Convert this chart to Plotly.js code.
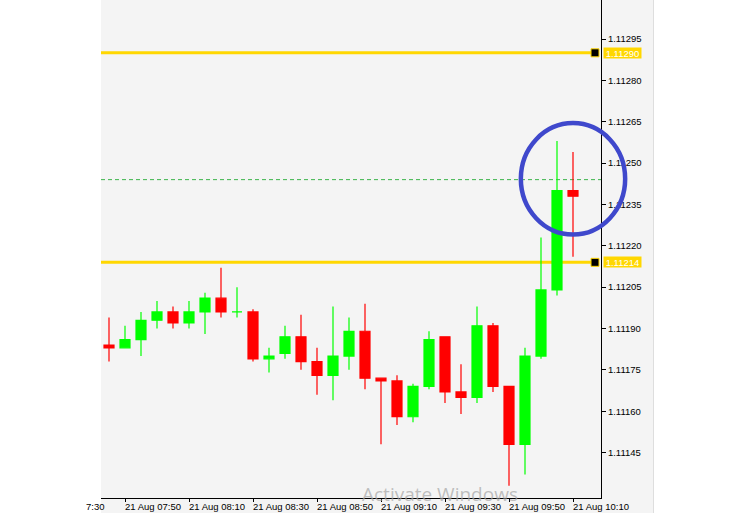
<!DOCTYPE html>
<html>
<head>
<meta charset="utf-8">
<script src="https://cdn.plot.ly/plotly-3.0.1.min.js"></script>
<style>
html,body{margin:0;padding:0;background:#ffffff;}
#chart{width:739px;height:513px;}
</style>
</head>
<body>
<div id="chart"></div>
<script>
// ---------- data ----------
const day = '2023-08-21 ';
const times = ['07:45','07:50','07:55','08:00','08:05','08:10','08:15','08:20','08:25','08:30',
               '08:35','08:40','08:45','08:50','08:55','09:00','09:05','09:10','09:15','09:20',
               '09:25','09:30','09:35','09:40','09:45','09:50','09:55','10:00','10:05','10:10'];
const open  = [1.11184,1.11183,1.11186,1.11193,1.11196,1.11192,1.11196,1.11201,1.11196,1.11196,
               1.11179,1.11181,1.11187,1.11178,1.11173,1.11180,1.11189,1.11172,1.11171,1.11158,
               1.11169,1.11187,1.11167,1.11165,1.11191,1.11169,1.11148,1.11180,1.11204,1.11240];
const high  = [1.11194,1.11191,1.11196,1.11200,1.11198,1.11200,1.11203,1.11212,1.11205,1.11197,
               1.11183,1.11191,1.11195,1.11183,1.11198,1.11194,1.11199,1.11172,1.11173,1.11170,
               1.11189,1.11187,1.11177,1.11198,1.11192,1.11169,1.11183,1.11223,1.11258,1.11254];
const low   = [1.11178,1.11183,1.11180,1.11190,1.11190,1.11190,1.11188,1.11194,1.11194,1.11178,
               1.11174,1.11179,1.11175,1.11166,1.11164,1.11175,1.11168,1.11148,1.11155,1.11156,
               1.11168,1.11163,1.11159,1.11163,1.11167,1.11133,1.11137,1.11179,1.11202,1.11216];
const close = [1.11183,1.11186,1.11193,1.11196,1.11192,1.11196,1.11201,1.11196,1.11196,1.11179,
               1.11180,1.11187,1.11178,1.11173,1.11180,1.11189,1.11172,1.11171,1.11158,1.11169,
               1.11186,1.11167,1.11165,1.11191,1.11169,1.11148,1.11180,1.11204,1.11240,1.11238];

const levelPrices = [1.11290, 1.11214];      // horizontal gold lines
const askPrice = 1.11244;                     // dashed ask line
const xTickTimes  = ['07:50','08:10','08:30','08:50','09:10','09:30','09:50','10:10'];
const xTickLabels = ['21 Aug 07:50','21 Aug 08:10','21 Aug 08:30','21 Aug 08:50',
                     '21 Aug 09:10','21 Aug 09:30','21 Aug 09:50','21 Aug 10:10'];
const yTicks = [1.11145,1.11160,1.11175,1.11190,1.11205,1.11220,1.11235,1.11250,1.11265,1.11280,1.11295];
const xRange = ['07:42:30','10:18:45'];
const yRange = [1.1112852, 1.1130916];
const circleCenterTime = '10:10';
const circleCenterPrice = 1.112443;
const circleRadiusMinutes = 16.3;
const circleRadiusPrice = 0.000202;

// ---------- helpers ----------
const GREEN = '#00ff00', RED = '#ff0000', GOLD = '#ffd700', BG = '#f4f4f4';
const FONT = 'Liberation Sans, Arial, sans-serif';
const FS = 9.5;
function toMin(s){ const p = s.split(':').map(Number); return p[0]*60 + p[1] + (p[2]||0)/60; }
const xr0 = toMin(xRange[0]), xr1 = toMin(xRange[1]);
function xPaperMin(m){ return (m - xr0)/(xr1 - xr0); }
function yPaper(p){ return (p - yRange[0])/(yRange[1] - yRange[0]); }
const W = 739, H = 513, ML = 101, MR = 138, MT = 0, MB = 15;
const PW = W - ML - MR, PH = H - MT - MB;
function pxX(px){ return (px - ML)/PW; }
function pxY(py){ return (H - MB - py)/PH; }

// split candles by direction (doji drawn in bull colour)
const up = {x:[],o:[],h:[],l:[],c:[]}, dn = {x:[],o:[],h:[],l:[],c:[]};
for (let i=0;i<times.length;i++){
  const g = close[i] >= open[i] ? up : dn;
  g.x.push(day+times[i]); g.o.push(open[i]); g.h.push(high[i]); g.l.push(low[i]); g.c.push(close[i]);
}
function candle(g, col){
  return {type:'candlestick', x:g.x, open:g.o, high:g.h, low:g.l, close:g.c,
    increasing:{line:{color:col,width:1.2}, fillcolor:col},
    decreasing:{line:{color:col,width:1.2}, fillcolor:col},
    whiskerwidth:0, hoverinfo:'x+y', showlegend:false};
}
const traces = [candle(up, GREEN), candle(dn, RED)];

// ---------- shapes ----------
const shapes = [];
shapes.push({type:'rect', xref:'paper', yref:'paper', x0:pxX(101), x1:pxX(653), y0:pxY(513), y1:1,
  fillcolor:BG, line:{width:0}, layer:'below'});
shapes.push({type:'line', xref:'paper', yref:'paper', x0:pxX(653.5), x1:pxX(653.5), y0:pxY(513), y1:1,
  line:{color:'#dedede', width:1}, layer:'below'});
shapes.push({type:'line', xref:'paper', yref:'y', x0:0, x1:1, y0:askPrice, y1:askPrice,
  line:{color:'#3cb44b', width:1, dash:'4px,3px'}, layer:'below'});
levelPrices.forEach(p=>{
  shapes.push({type:'line', xref:'paper', yref:'y', x0:0, x1:pxX(591), y0:p, y1:p,
    line:{color:GOLD, width:3}, layer:'below'});
  shapes.push({type:'rect', xref:'paper', yref:'y', xsizemode:'pixel', ysizemode:'pixel',
    xanchor:pxX(595), yanchor:p, x0:-4, x1:4, y0:-4, y1:4,
    fillcolor:'#000000', line:{color:GOLD, width:1}, layer:'above'});
});
const cxm = toMin(circleCenterTime);
shapes.push({type:'circle', xref:'paper', yref:'paper',
  x0:xPaperMin(cxm - circleRadiusMinutes), x1:xPaperMin(cxm + circleRadiusMinutes),
  y0:yPaper(circleCenterPrice - circleRadiusPrice), y1:yPaper(circleCenterPrice + circleRadiusPrice),
  line:{color:'#3f48cc', width:4.5}, layer:'above'});

// ---------- annotations ----------
const annotations = [];
levelPrices.forEach(p=>{
  annotations.push({xref:'paper', yref:'y', x:1, y:p, xanchor:'left', yanchor:'middle', xshift:2,
    text:p.toFixed(5), showarrow:false, bgcolor:GOLD, borderpad:0, width:37, height:10,
    font:{family:FONT, size:FS, color:'#ffffff'}});
});
xTickTimes.forEach((t,i)=>{
  annotations.push({xref:'x', yref:'paper', x:day+t, y:0, xanchor:'left', yanchor:'top',
    yshift:-2, xshift:-1, text:xTickLabels[i], showarrow:false, borderpad:0,
    font:{family:FONT, size:FS, color:'#000000'}});
});
annotations.push({xref:'paper', yref:'paper', x:pxX(106), y:0, xanchor:'right', yanchor:'top',
  yshift:-2, text:'7:30', showarrow:false, borderpad:0, font:{family:FONT, size:FS, color:'#000000'}});
annotations.push({xref:'paper', yref:'paper', x:pxX(440), y:pxY(494), xanchor:'center', yanchor:'middle',
  text:'Activate Windows', showarrow:false,
  font:{family:'Open Sans, Noto Sans, sans-serif', size:19, color:'rgba(165,165,165,0.7)'}});

// ---------- layout ----------
const layout = {
  width:W, height:H, autosize:false,
  margin:{l:ML, r:MR, t:MT, b:MB, pad:0},
  paper_bgcolor:'#ffffff', plot_bgcolor:BG,
  showlegend:false, boxgap:0.375, boxgroupgap:0,
  font:{family:FONT, size:FS, color:'#000000'},
  xaxis:{type:'date', range:xRange.map(t=>day+t), rangeslider:{visible:false},
    tickvals:xTickTimes.map(t=>day+t), tickmode:'array', showticklabels:false,
    ticks:'outside', ticklen:3, tickcolor:'#000000', tickwidth:1,
    showline:true, linecolor:'#000000', linewidth:1, showgrid:false, zeroline:false, fixedrange:true},
  yaxis:{side:'right', range:yRange, tickmode:'array', tickvals:yTicks, ticktext:yTicks.map(v=>v.toFixed(5)),
    ticks:'outside', ticklen:4, tickcolor:'#000000', tickwidth:1,
    showline:true, linecolor:'#000000', linewidth:1, showgrid:false, zeroline:false,
    tickfont:{family:FONT, size:FS, color:'#000000'}, fixedrange:true},
  shapes:shapes, annotations:annotations
};
Plotly.newPlot('chart', traces, layout, {displayModeBar:false, staticPlot:true});
</script>
</body>
</html>
